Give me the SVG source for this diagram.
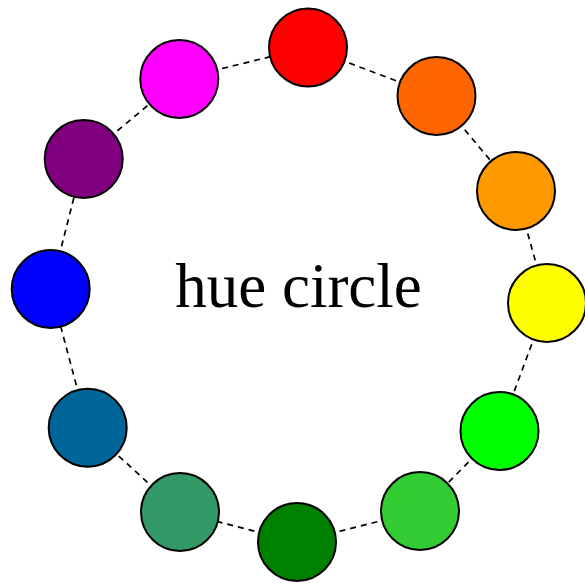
<svg xmlns="http://www.w3.org/2000/svg" width="585" height="584" viewBox="0 0 585 584">
<style>
.node circle{stroke:#000;stroke-width:2}
.edge{stroke:#000;stroke-width:1.7;stroke-dasharray:6,5;fill:none}
text{font-family:"Liberation Serif","Times New Roman",serif;font-size:63px;fill:#000}
</style>
<rect width="585" height="584" fill="#fff"/>
<g id="connectors">
<line class="edge" x1="308" y1="47.5" x2="436.5" y2="96"/>
<line class="edge" x1="436.5" y1="96" x2="516" y2="191"/>
<line class="edge" x1="516" y1="191" x2="547" y2="303"/>
<line class="edge" x1="547" y1="303" x2="499.5" y2="431"/>
<line class="edge" x1="499.5" y1="431" x2="420" y2="511"/>
<line class="edge" x1="420" y1="511" x2="297" y2="542"/>
<line class="edge" x1="297" y1="542" x2="180" y2="512"/>
<line class="edge" x1="180" y1="512" x2="87.7" y2="427.7"/>
<line class="edge" x1="87.7" y1="427.7" x2="50.7" y2="289"/>
<line class="edge" x1="50.7" y1="289" x2="83.7" y2="159"/>
<line class="edge" x1="83.7" y1="159" x2="179.3" y2="79"/>
<line class="edge" x1="179.3" y1="79" x2="308" y2="47.5"/>
</g>
<g id="red" class="node"><circle cx="308" cy="47.5" r="39" fill="#ff0000"/></g>
<g id="orangered" class="node"><circle cx="436.5" cy="96" r="39" fill="#ff6600"/></g>
<g id="orange" class="node"><circle cx="516" cy="191" r="39" fill="#ff9900"/></g>
<g id="yellow" class="node"><circle cx="547" cy="303" r="39" fill="#ffff00"/></g>
<g id="green" class="node"><circle cx="499.5" cy="431" r="39" fill="#00ff00"/></g>
<g id="limegreen" class="node"><circle cx="420" cy="511" r="39" fill="#33cc33"/></g>
<g id="darkgreen" class="node"><circle cx="297" cy="542" r="39" fill="#008000"/></g>
<g id="seagreen" class="node"><circle cx="180" cy="512" r="39" fill="#339966"/></g>
<g id="teal" class="node"><circle cx="87.7" cy="427.7" r="39" fill="#006699"/></g>
<g id="blue" class="node"><circle cx="50.7" cy="289" r="39" fill="#0000ff"/></g>
<g id="purple" class="node"><circle cx="83.7" cy="159" r="39" fill="#800080"/></g>
<g id="magenta" class="node"><circle cx="179.3" cy="79" r="39" fill="#ff00ff"/></g>
<g id="label"><text x="298.5" y="307" text-anchor="middle">hue circle</text></g>
</svg>
